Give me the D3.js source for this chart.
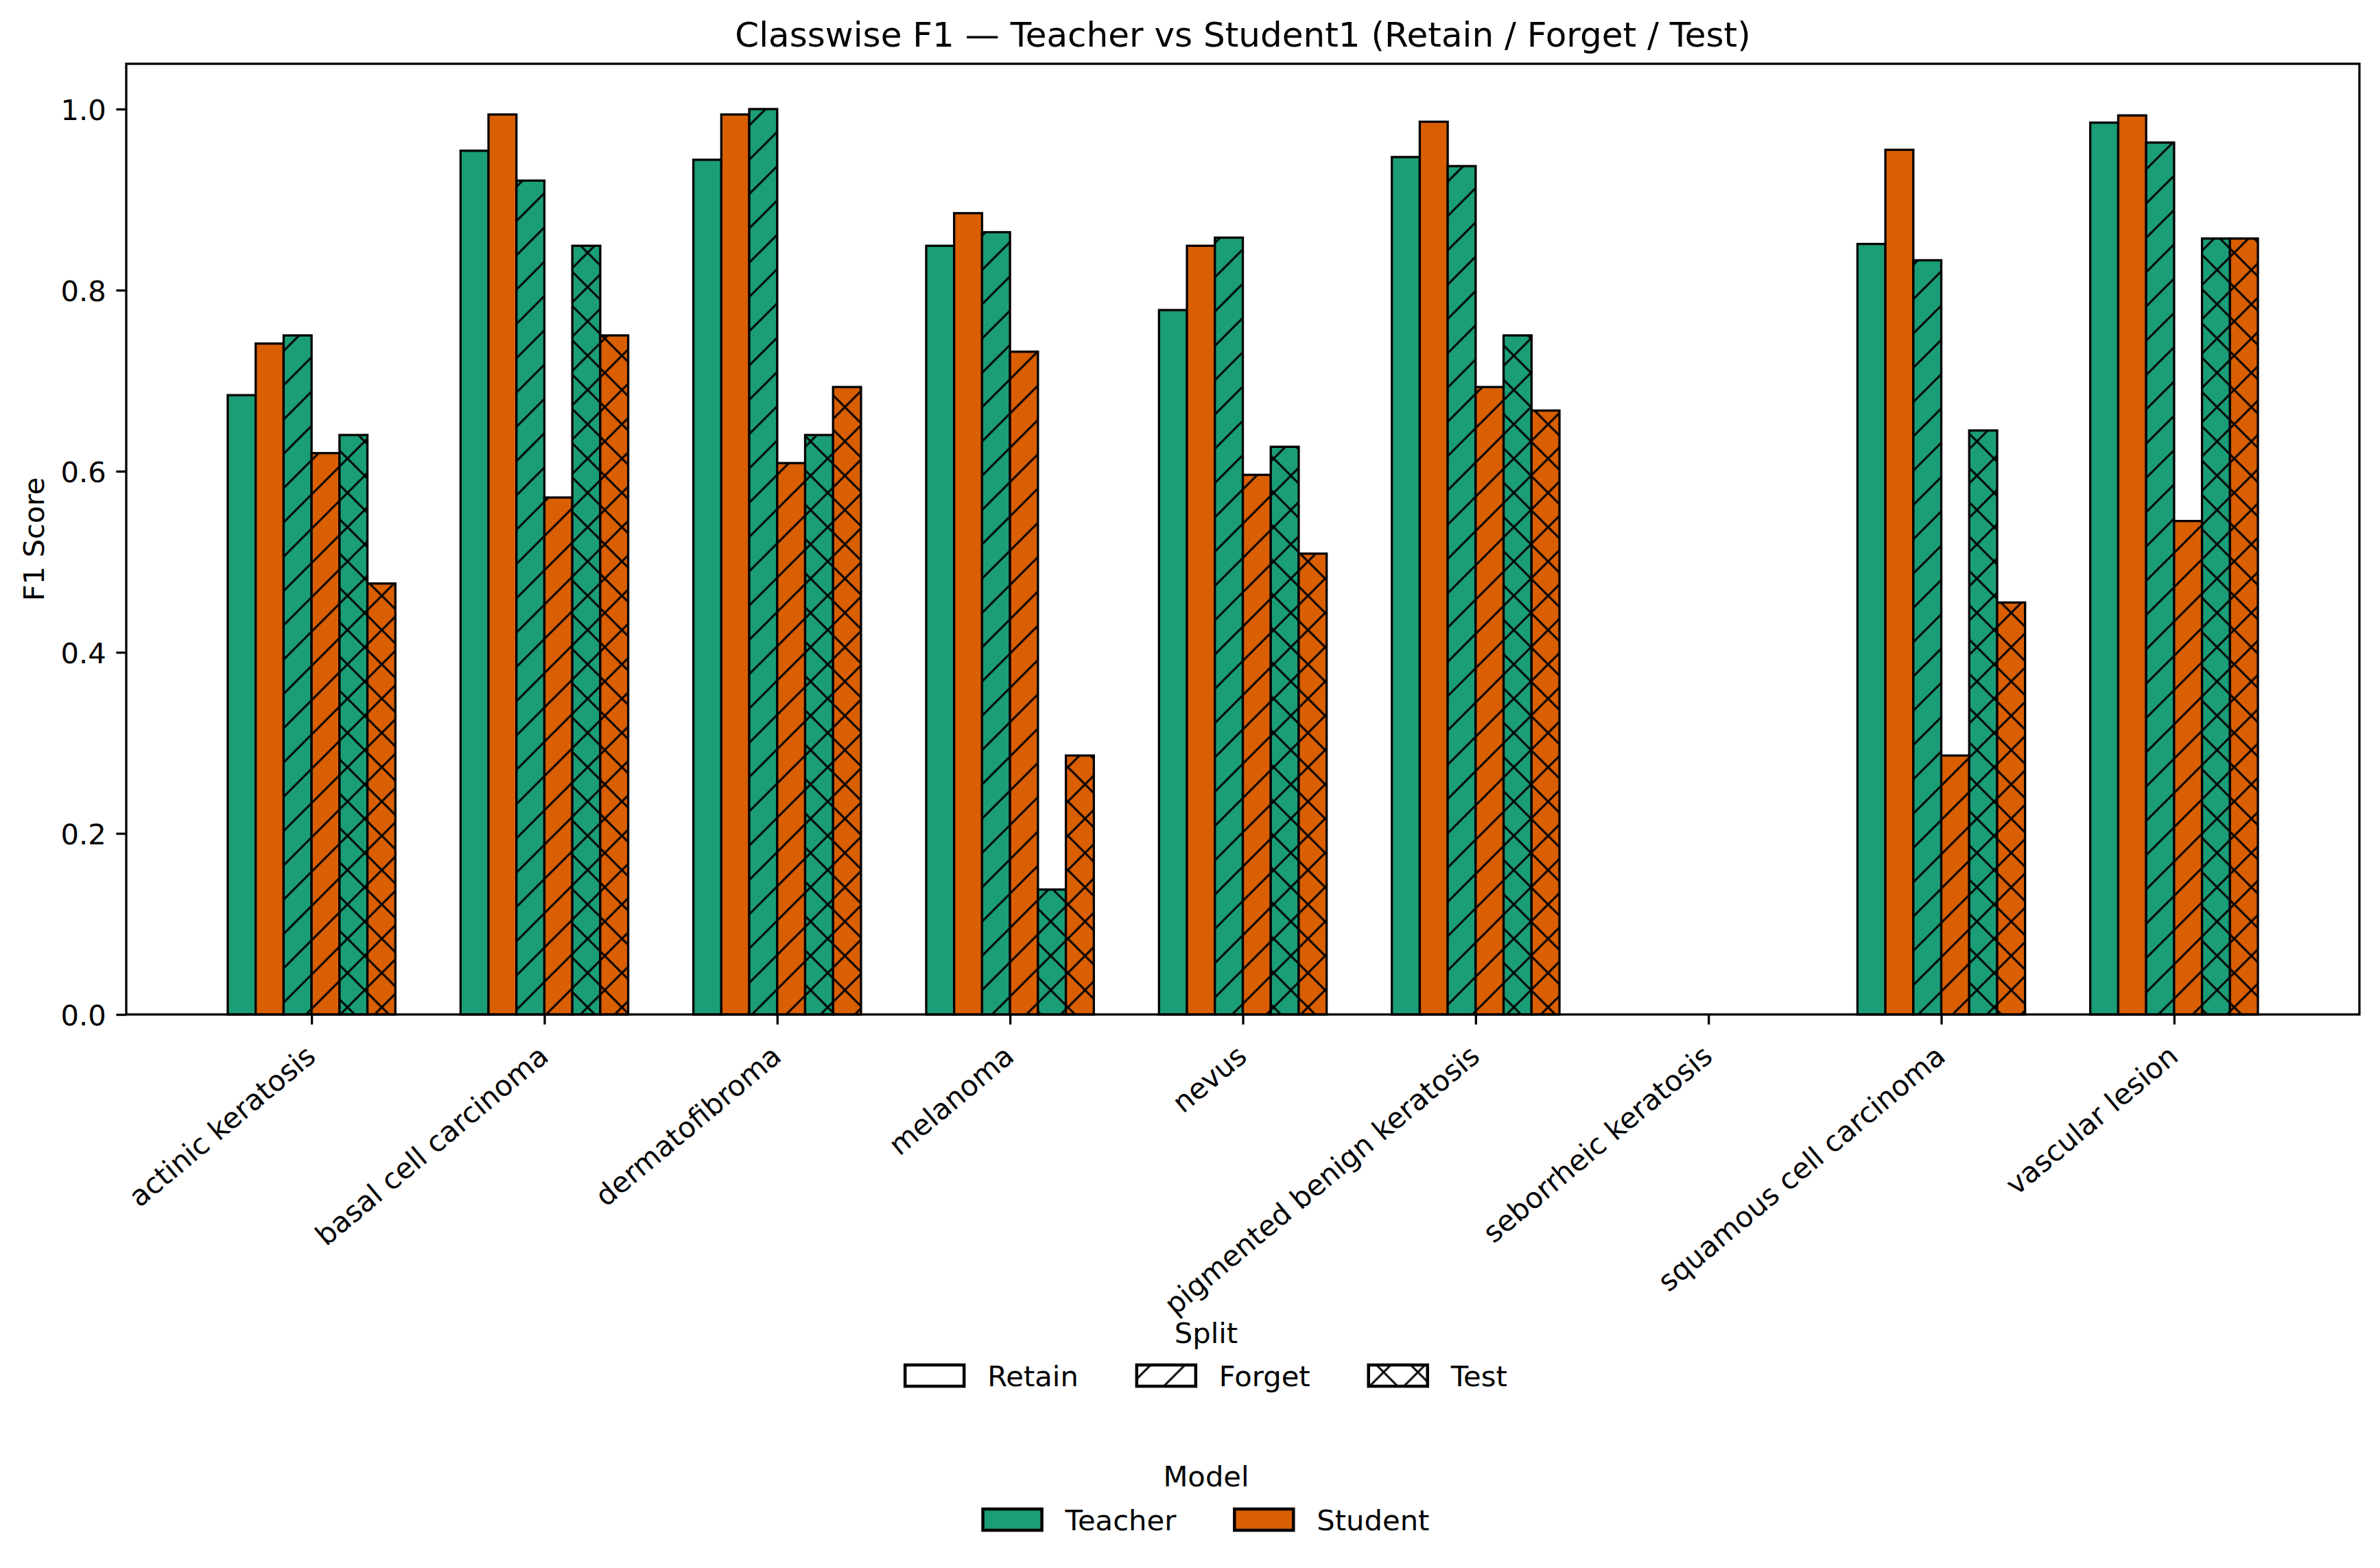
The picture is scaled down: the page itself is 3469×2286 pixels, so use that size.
<!DOCTYPE html>
<html lang="en">
<head>
<meta charset="UTF-8">
<title>Classwise F1</title>
<script src="https://d3js.org/d3.v7.min.js"></script>
<style>
  body { margin: 0; background: #fff; }
  text { font-family: "DejaVu Sans", sans-serif; fill: #000; }
</style>
</head>
<body>
<div id="chart"></div>
<script>
// values
var categories = ["actinic keratosis", "basal cell carcinoma", "dermatofibroma", "melanoma", "nevus",
                  "pigmented benign keratosis", "seborrheic keratosis", "squamous cell carcinoma", "vascular lesion"];
var models = ["Teacher", "Student"];
var splits = ["Retain", "Forget", "Test"];

var teacherRetain = [0.684, 0.954, 0.944, 0.849, 0.778, 0.947, 0, 0.851, 0.985];
var studentRetain = [0.741, 0.994, 0.994, 0.885, 0.849, 0.986, 0, 0.955, 0.993];
var teacherForget = [0.750, 0.921, 1.000, 0.864, 0.858, 0.937, 0, 0.833, 0.963];
var studentForget = [0.620, 0.571, 0.609, 0.732, 0.596, 0.693, 0, 0.286, 0.545];
var teacherTest   = [0.640, 0.849, 0.640, 0.138, 0.627, 0.750, 0, 0.645, 0.857];
var studentTest   = [0.476, 0.750, 0.693, 0.286, 0.509, 0.667, 0, 0.455, 0.857];

var yTicks = [0, 0.2, 0.4, 0.6, 0.8, 1.0];

var modelColor = {Teacher: "#1b9e77", Student: "#d95f02"};
var splitHatch = {Retain: null, Forget: "url(#hatchFwd)", Test: "url(#hatchX)"};

// bars drawn in this order inside each group
var series = [
  {model: "Teacher", split: "Retain", values: teacherRetain},
  {model: "Student", split: "Retain", values: studentRetain},
  {model: "Teacher", split: "Forget", values: teacherForget},
  {model: "Student", split: "Forget", values: studentForget},
  {model: "Teacher", split: "Test",   values: teacherTest},
  {model: "Student", split: "Test",   values: studentTest}
];

var W = 3469, H = 2286;
var margin = {top: 93, right: 30, bottom: 807, left: 184},
    width = W - margin.left - margin.right,
    height = H - margin.top - margin.bottom;

var fs = 41.7;          // 10pt at 300 dpi
var barW = 0.12;

var svg = d3.select("#chart").append("svg")
    .attr("width", W).attr("height", H);

// hatch patterns (6 lines per inch, anchored to the canvas)
var defs = svg.append("defs");
defs.append("pattern")
    .attr("id", "hatchFwd").attr("patternUnits", "userSpaceOnUse")
    .attr("x", 22.5).attr("y", 25.5).attr("width", 50).attr("height", 50)
  .append("path")
    .attr("d", "M-5,5L5,-5M0,50L50,0M45,55L55,45")
    .attr("stroke", "#000").attr("stroke-width", 3);
var px = defs.append("pattern")
    .attr("id", "hatchX").attr("patternUnits", "userSpaceOnUse")
    .attr("x", 22.5).attr("y", 25.5).attr("width", 50).attr("height", 50);
px.append("path")
    .attr("d", "M-5,5L5,-5M0,50L50,0M45,55L55,45M-5,45L5,55M0,0L50,50M45,-5L55,5")
    .attr("stroke", "#000").attr("stroke-width", 3);

var g = svg.append("g")
    .attr("transform", "translate(" + margin.left + "," + margin.top + ")");

var span = (categories.length - 1) + series.length * barW;
var pad = span * 0.05;
var x = d3.scaleLinear()
    .domain([-series.length * barW / 2 - pad, categories.length - 1 + series.length * barW / 2 + pad])
    .range([0, width]);
var y = d3.scaleLinear().domain([0, 1.05]).range([height, 0]);

// bars
series.forEach(function(s, j) {
  var off = (j - (series.length - 1) / 2) * barW;
  var bars = g.append("g").selectAll("g")
    .data(s.values).enter().append("g");
  bars.append("rect")
      .attr("x", function(d, i) { return x(i + off - barW / 2); })
      .attr("y", function(d) { return y(d); })
      .attr("width", x(barW) - x(0))
      .attr("height", function(d) { return y(0) - y(d); })
      .attr("fill", modelColor[s.model]);
  bars.append("rect")
      .attr("x", function(d, i) { return x(i + off - barW / 2); })
      .attr("y", function(d) { return y(d); })
      .attr("width", x(barW) - x(0))
      .attr("height", function(d) { return y(0) - y(d); })
      .attr("fill", splitHatch[s.split] || "none")
      .attr("stroke", "#000").attr("stroke-width", 3.3);
});

// axes
var yAxis = g.append("g")
    .call(d3.axisLeft(y).tickValues(yTicks).tickFormat(d3.format(".1f"))
      .tickSize(14.6).tickPadding(14.6).tickSizeOuter(0));
var xAxis = g.append("g")
    .attr("transform", "translate(0," + height + ")")
    .call(d3.axisBottom(x).tickValues(d3.range(categories.length))
      .tickFormat(function(i) { return categories[i]; })
      .tickSize(14.6).tickSizeOuter(0));

[xAxis, yAxis].forEach(function(a) {
  a.attr("font-family", null).attr("font-size", null);
  a.select(".domain").remove();
  a.selectAll(".tick line").attr("stroke", "#000").attr("stroke-width", 3.3);
  a.selectAll(".tick text").attr("font-size", fs).attr("fill", "#000");
});
yAxis.selectAll(".tick text").attr("dy", "0.36em");
xAxis.selectAll(".tick text")
    .attr("y", null).attr("dy", null)
    .attr("text-anchor", "end")
    .attr("transform", "translate(8,65) rotate(-40)");

// frame
g.append("rect")
    .attr("width", width).attr("height", height)
    .attr("fill", "none").attr("stroke", "#000").attr("stroke-width", 3.3);

// titles
svg.append("text")
    .attr("x", margin.left + width / 2).attr("y", 68)
    .attr("text-anchor", "middle").attr("font-size", 50)
    .text("Classwise F1 \u2014 Teacher vs Student1 (Retain / Forget / Test)");
svg.append("text")
    .attr("transform", "translate(64," + (margin.top + height / 2) + ") rotate(-90)")
    .attr("text-anchor", "middle").attr("font-size", fs)
    .text("F1 Score");

// legends
function legend(title, items, titleY, rowY) {
  var cx = 1758, hl = 86, hh = 31, gap = 34, colGap = 85;
  var lg = svg.append("g");
  lg.append("text").attr("x", cx).attr("y", titleY)
    .attr("text-anchor", "middle").attr("font-size", fs).text(title);
  var row = lg.append("g");
  var pos = 0;
  items.forEach(function(it) {
    row.append("rect").attr("x", pos).attr("y", rowY - hh)
      .attr("width", hl).attr("height", hh)
      .attr("fill", it.fill);
    row.append("rect").attr("x", pos).attr("y", rowY - hh)
      .attr("width", hl).attr("height", hh)
      .attr("fill", it.hatch || "none")
      .attr("stroke", "#000").attr("stroke-width", 4.5);
    var t = row.append("text").attr("x", pos + hl + gap).attr("y", rowY)
      .attr("font-size", fs).text(it.label);
    pos += hl + gap + t.node().getComputedTextLength() + colGap;
  });
  var total = pos - colGap;
  row.attr("transform", "translate(" + (cx - total / 2) + ",0)");
}

legend("Split", splits.map(function(s) {
  return {label: s, fill: "#fff", hatch: splitHatch[s]};
}), 1958, 2021);
legend("Model", models.map(function(m) {
  return {label: m, fill: modelColor[m]};
}), 2167, 2231);
</script>
</body>
</html>
